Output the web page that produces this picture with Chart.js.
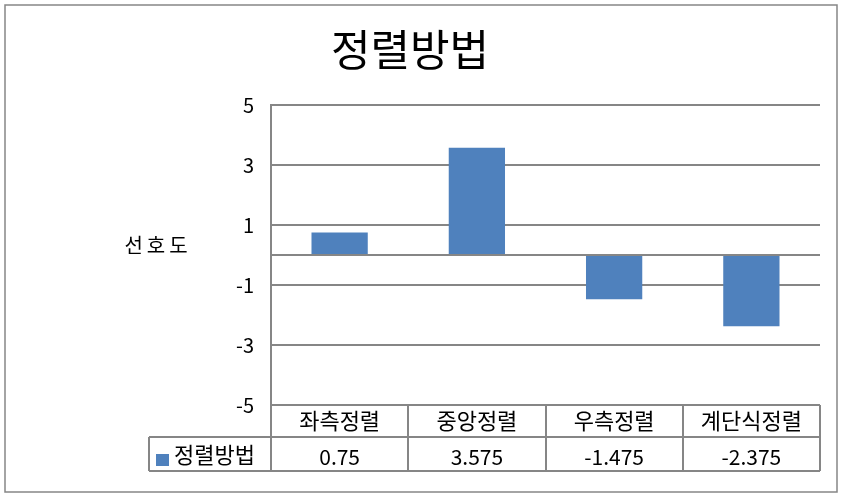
<!DOCTYPE html>
<html>
<head>
<meta charset="utf-8">
<script src="https://cdn.jsdelivr.net/npm/chart.js@4"></script>
<style>
  html, body { margin: 0; padding: 0; background: #fff; }
</style>
</head>
<body>
<canvas id="myBarChart" width="845" height="497"></canvas>
<script>
const chartTitle = '정렬방법';
const axisTitle = '선호도';
const categories = ['좌측정렬', '중앙정렬', '우측정렬', '계단식정렬'];
const seriesName = '정렬방법';
const values = [0.75, 3.575, -1.475, -2.375];
const yMin = -5;
const yMax = 5;
const yStep = 2;

const barColor = '#4F81BD';
const lineColor = '#868686';
const fontFamily = '"Noto Sans CJK KR", "Noto Sans", sans-serif';

Chart.defaults.font.family = fontFamily;
Chart.defaults.color = '#000';

// frame, zero line, y title and the data table under the plot
const tablePlugin = {
    id: 'dataTable',
    beforeDraw(chart) {
        const ctx = chart.ctx;
        ctx.save();
        ctx.fillStyle = '#fff';
        ctx.fillRect(0, 0, chart.width, chart.height);
        ctx.strokeStyle = lineColor;
        ctx.lineWidth = 1.5;
        ctx.strokeRect(5, 5, 832, 487);
        ctx.restore();
    },
    afterDatasetsDraw(chart) {
        const ctx = chart.ctx;
        const area = chart.chartArea;
        const y0 = Math.round(chart.scales.y.getPixelForValue(0));
        ctx.save();
        ctx.strokeStyle = lineColor;
        ctx.lineWidth = 2;
        ctx.beginPath();
        ctx.moveTo(area.left, y0);
        ctx.lineTo(area.right, y0);
        ctx.stroke();
        ctx.restore();
    },
    afterDraw(chart) {
        const ctx = chart.ctx;
        const area = chart.chartArea;
        const colW = (area.right - area.left) / categories.length;
        const top = area.bottom;
        const mid = top + 32;
        const bottom = top + 66;
        const keyLeft = 149;

        ctx.save();
        ctx.strokeStyle = lineColor;
        ctx.lineWidth = 2;
        ctx.beginPath();
        ctx.moveTo(keyLeft, mid);
        ctx.lineTo(area.right, mid);
        ctx.moveTo(keyLeft, bottom);
        ctx.lineTo(area.right, bottom);
        ctx.moveTo(keyLeft, mid);
        ctx.lineTo(keyLeft, bottom);
        for (let i = 0; i <= categories.length; i++) {
            const x = Math.round(area.left + i * colW);
            ctx.moveTo(x, top);
            ctx.lineTo(x, bottom);
        }
        ctx.stroke();

        ctx.fillStyle = '#000';
        ctx.textAlign = 'center';
        ctx.textBaseline = 'middle';
        categories.forEach((c, i) => {
            const x = chart.scales.x.getPixelForValue(i);
            ctx.font = '22px ' + fontFamily;
            ctx.fillText(c, x, (top + mid) / 2);
            ctx.font = '21px ' + fontFamily;
            ctx.fillText(String(values[i]), x, (mid + bottom) / 2 + 3);
        });

        // legend key
        ctx.fillStyle = barColor;
        ctx.fillRect(156, 454, 13, 12);
        ctx.fillStyle = '#000';
        ctx.textAlign = 'left';
        ctx.font = '22px ' + fontFamily;
        ctx.fillText(seriesName, 174, (mid + bottom) / 2 + 1);

        // y axis title, horizontal
        ctx.textAlign = 'center';
        ctx.font = '20px ' + fontFamily;
        ctx.letterSpacing = '4px';
        ctx.fillText(axisTitle, 158, 245);
        ctx.restore();
    }
};

const ctx = document.getElementById('myBarChart').getContext('2d');

const chartData = {
    labels: categories,
    datasets: [{
        label: seriesName,
        data: values,
        backgroundColor: barColor,
        borderWidth: 0,
        categoryPercentage: 1,
        barPercentage: 0.41
    }]
};

const config = {
    type: 'bar',
    data: chartData,
    options: {
        responsive: false,
        animation: false,
        layout: {
            padding: { left: 0, right: 25, top: 0, bottom: 92 }
        },
        scales: {
            x: {
                display: false
            },
            y: {
                min: yMin,
                max: yMax,
                ticks: {
                    stepSize: yStep,
                    padding: 17,
                    color: '#000',
                    font: { size: 20 }
                },
                grid: {
                    color: lineColor,
                    lineWidth: 2,
                    drawTicks: false
                },
                border: {
                    display: true,
                    color: lineColor,
                    width: 2
                },
                afterFit(scale) {
                    scale.width = 271;
                }
            }
        },
        plugins: {
            legend: { display: false },
            tooltip: { enabled: false },
            title: {
                display: true,
                text: chartTitle,
                color: '#000',
                font: { size: 43, weight: 'normal', lineHeight: 1.2 },
                padding: { top: 24, bottom: 29.4 }
            }
        }
    },
    plugins: [tablePlugin]
};

const chart = new Chart(ctx, config);
</script>
</body>
</html>
